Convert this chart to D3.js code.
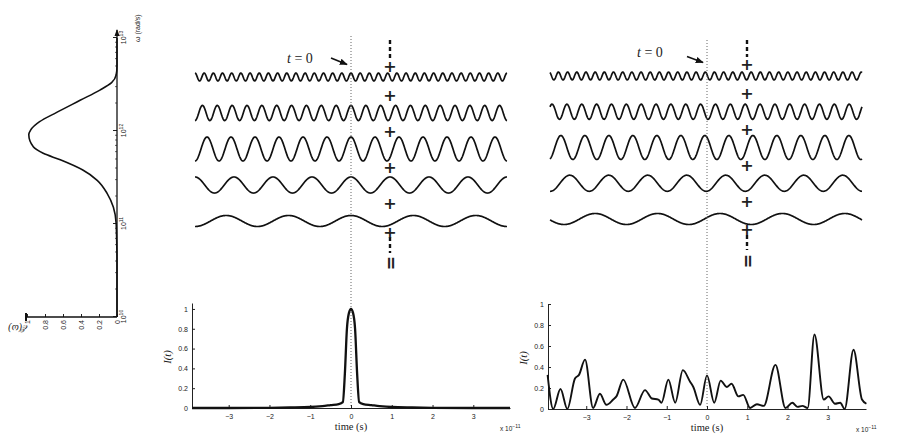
<!DOCTYPE html>
<html>
<head>
<meta charset="utf-8">
<script src="https://cdn.jsdelivr.net/npm/d3@7"></script>
<style>
body { margin: 0; background: #fff; }
svg text { font-family: "Liberation Sans", Arial, sans-serif; fill: #222; }
.serif { font-family: "Liberation Serif", "DejaVu Serif", serif; }
.axis .domain, .axis line { stroke: #222; }
</style>
</head>
<body>
<svg id="fig" width="900" height="443"></svg>
<script>
// spectrum E(w) : log10 of w (rad/s) and amplitude
var specLogW = [10, 10.6, 10.8, 11.01, 11.18, 11.33, 11.47, 11.58, 11.69, 11.76, 11.83, 11.96, 12.01, 12.1, 12.2, 12.33, 12.44, 12.52, 12.6, 12.7, 13];
var specVal  = [0, 0, 0.003, 0.01, 0.04, 0.11, 0.22, 0.38, 0.63, 0.82, 0.93, 0.98, 0.96, 0.86, 0.67, 0.41, 0.19, 0.06, 0.01, 0, 0];
var specTicks = [1e10, 1e11, 1e12, 1e13];
var specValTicks = [0, 0.2, 0.4, 0.6, 0.8, 1];

// the five cosine components: cycles across the strip, relative amplitude, phases
var waveCycles = [34, 21, 13, 8, 5];
var waveAmp = [0.33, 0.63, 1, 0.67, 0.46];
var phaseLocked = [0, 0, 0, 0, 0];
var phaseRandom = [0.5, 2.28, 0.3, 3.1, -1.41];

// intensity I(t), time in units of 1e-11 s
var lockT = [-3.9, -3, -2, -1.5, -1, -0.7, -0.5, -0.3, -0.2, -0.15, -0.1, -0.05, 0, 0.05, 0.1, 0.15, 0.2, 0.3, 0.5, 0.7, 1, 1.5, 2, 3, 3.9];
var lockI = [0, 0, 0.002, 0.005, 0.01, 0.02, 0.03, 0.04, 0.06, 0.35, 0.8, 0.96, 1, 0.96, 0.8, 0.35, 0.06, 0.04, 0.03, 0.02, 0.01, 0.005, 0.002, 0, 0];
var randT = [-3.96, -3.82, -3.64, -3.47, -3.28, -3.18, -3.03, -2.83, -2.66, -2.5, -2.33, -2.25, -2.08, -1.79, -1.54, -1.37, -1.21, -1.13, -0.96, -0.79, -0.6, -0.42, -0.34, -0.17, 0, 0.18, 0.34, 0.49, 0.61, 0.78, 0.9, 1.07, 1.24, 1.41, 1.7, 1.95, 2.12, 2.25, 2.37, 2.5, 2.67, 2.9, 3.02, 3.18, 3.31, 3.42, 3.64, 3.85, 3.96];
var randI = [0.325, 0, 0.19, 0, 0.29, 0.325, 0.47, 0.01, 0.145, 0.04, 0.09, 0.12, 0.28, 0.01, 0.18, 0.1, 0.09, 0.06, 0.28, 0.06, 0.37, 0.26, 0.21, 0.04, 0.32, 0.06, 0.27, 0.21, 0.24, 0.12, 0.135, 0.01, 0.045, 0.03, 0.42, 0.01, 0.06, 0.02, 0.03, 0.01, 0.71, 0.09, 0.12, 0.05, 0.06, 0, 0.565, 0.09, 0.05];
var timeTicks = [-3, -2, -1, 0, 1, 2, 3];
var intTicks = [0, 0.2, 0.4, 0.6, 0.8, 1];

var svg = d3.select("#fig");
var minus = function(d) { return d < 0 ? "\u2212" + (-d) : "" + d; };

svg.append("defs").append("marker")
    .attr("id", "head").attr("viewBox", "0 0 10 10")
    .attr("refX", 9).attr("refY", 5)
    .attr("markerWidth", 5).attr("markerHeight", 5)
    .attr("orient", "auto")
  .append("path").attr("d", "M0,1 L10,5 L0,9 z").attr("fill", "#111");

// ---------- spectrum, drawn in a frame turned by -90 degrees ----------
var spec = svg.append("g").attr("transform", "translate(117,317) rotate(-90)");
var w = d3.scaleLog().domain([1e10, 1e13]).range([0, 279]);
var e = d3.scaleLinear().domain([0, 1]).range([0, -90]);

var wAxis = spec.append("g").attr("class", "axis")
    .call(d3.axisBottom(w).tickValues(specTicks).tickSizeInner(-4).tickSizeOuter(0).tickPadding(4));
wAxis.select(".domain").remove();
wAxis.selectAll("text").attr("font-size", 7).each(function(d) {
  var t = d3.select(this).text("");
  t.append("tspan").text("10");
  t.append("tspan").attr("dy", -3).attr("font-size", 5).text(Math.round(Math.log10(d)));
});
// minor log ticks
var minor = [];
[1e10, 1e11, 1e12].forEach(function(p) { d3.range(2, 10).forEach(function(k) { minor.push(p * k); }); });
spec.selectAll(".minor").data(minor).enter().append("line")
    .attr("x1", function(d) { return w(d); }).attr("x2", function(d) { return w(d); })
    .attr("y1", 0).attr("y2", -2).attr("stroke", "#222").attr("stroke-width", 0.7);

var eAxis = spec.append("g").attr("class", "axis")
    .call(d3.axisLeft(e).tickValues(specValTicks).tickSizeInner(-3).tickSizeOuter(0).tickPadding(3).tickFormat(function(d) { return d; }));
eAxis.select(".domain").remove();
eAxis.selectAll("text").attr("font-size", 7);

spec.append("line").attr("x1", 0).attr("x2", 287).attr("y1", 0).attr("y2", 0).attr("stroke", "#111").attr("stroke-width", 1.3);
spec.append("line").attr("x1", 0).attr("x2", 0).attr("y1", 0).attr("y2", -92).attr("stroke", "#111").attr("stroke-width", 1.3);
spec.append("path").attr("d", "M281,-2.5 L288,0 L281,2.5 z").attr("fill", "#111");
spec.append("line").attr("x1", -4).attr("x2", 4).attr("y1", -91).attr("y2", -91).attr("stroke", "#111").attr("stroke-width", 2);

spec.append("path")
    .datum(d3.zip(specLogW, specVal))
    .attr("fill", "none").attr("stroke", "#111").attr("stroke-width", 1.6)
    .attr("d", d3.line()
      .x(function(d) { return w(Math.pow(10, d[0])); })
      .y(function(d) { return e(d[1]); })
      .curve(d3.curveMonotoneX));

spec.append("text").attr("x", 275).attr("y", 23).attr("font-size", 7)
    .text("\u03c9 (rad/s)");
svg.append("text").attr("class", "serif").attr("x", 28).attr("y", 325)
    .attr("transform", "rotate(180,28,325)")
    .attr("font-size", 10).attr("font-style", "italic").text("\u2130(\u03c9)");

// ---------- wave strips ----------
var ampPx = d3.scaleLinear().domain([0, 1]).range([0, 12]);
var samples = d3.range(0, 801).map(function(i) { return -0.5 + i / 800; });

function strip(o) {
  var x = d3.scaleLinear().domain([-0.5, 0.5]).range([o.left, o.right]);
  var row = d3.scalePoint().domain(d3.range(waveCycles.length)).range([o.top, o.bottom]);
  var g = svg.append("g");

  g.selectAll("path.wave").data(waveCycles).enter().append("path")
      .attr("class", "wave")
      .attr("fill", "none").attr("stroke", "#111").attr("stroke-width", 1.7)
      .attr("d", function(f, i) {
        return d3.line()
          .x(function(u) { return x(u); })
          .y(function(u) { return row(i) - ampPx(waveAmp[i]) * Math.cos(2 * Math.PI * f * u + o.phase[i]); })(samples);
      });

  // column of plus signs joining the components
  g.append("line").attr("x1", o.plusX).attr("x2", o.plusX).attr("y1", o.dashTop[0]).attr("y2", o.dashTop[1])
      .attr("stroke", "#111").attr("stroke-width", 2.4).attr("stroke-dasharray", "4,3");
  g.append("line").attr("x1", o.plusX).attr("x2", o.plusX).attr("y1", o.dashBot[0]).attr("y2", o.dashBot[1])
      .attr("stroke", "#111").attr("stroke-width", 2.4).attr("stroke-dasharray", "4,3");
  g.selectAll("text.plus").data(o.plusY).enter().append("text")
      .attr("class", "plus")
      .attr("x", o.plusX).attr("y", function(d) { return d + 5.5; })
      .attr("text-anchor", "middle").attr("font-size", 16).attr("font-weight", "bold")
      .style("font-family", "DejaVu Sans").text("+");
  g.append("text").attr("x", o.plusX).attr("y", o.eqY + 5)
      .attr("transform", "rotate(90," + o.plusX + "," + o.eqY + ")")
      .attr("text-anchor", "middle").attr("font-size", 17).attr("font-weight", "bold")
      .style("font-family", "DejaVu Sans").text("=");

  var lab = g.append("text").attr("class", "serif").attr("x", o.label[0]).attr("y", o.label[1]).attr("font-size", 14);
  lab.append("tspan").attr("font-style", "italic").text("t");
  lab.append("tspan").text(" = 0");
  g.append("line").attr("x1", o.arrow[0]).attr("y1", o.arrow[1]).attr("x2", o.arrow[2]).attr("y2", o.arrow[3])
      .attr("stroke", "#111").attr("stroke-width", 1.6).attr("marker-end", "url(#head)");
}

strip({ left: 195, right: 507, top: 77, bottom: 221, phase: phaseLocked,
        plusX: 390, plusY: [66, 95, 131, 167, 203, 232], dashTop: [40, 59], dashBot: [237, 253], eqY: 263,
        label: [287, 63], arrow: [331, 58, 347, 64.5] });
strip({ left: 550, right: 862, top: 76, bottom: 219, phase: phaseRandom,
        plusX: 747, plusY: [64, 93, 129, 165, 201, 229], dashTop: [40, 57], dashBot: [235, 250], eqY: 261,
        label: [637, 57], arrow: [687, 56.5], arrow: [687, 56.5, 703, 62.5] });

// ---------- intensity plots ----------
function pulsePlot(o) {
  var x = d3.scaleLinear().domain(o.tDom).range([o.left, o.right]);
  var y = d3.scaleLinear().domain(o.yDom).range([o.base, o.top]);
  var g = svg.append("g");

  g.append("line").attr("x1", x(0)).attr("x2", x(0)).attr("y1", o.dotTop).attr("y2", o.base)
      .attr("stroke", "#666").attr("stroke-width", 1).attr("stroke-dasharray", "1,2");

  var xa = g.append("g").attr("class", "axis").attr("transform", "translate(0," + o.base + ")")
      .call(d3.axisBottom(x).tickValues(timeTicks).tickSizeInner(-3).tickSizeOuter(0).tickPadding(6).tickFormat(minus));
  xa.selectAll("text").attr("font-size", 7);
  var ya = g.append("g").attr("class", "axis").attr("transform", "translate(" + o.left + ",0)")
      .call(d3.axisLeft(y).tickValues(intTicks).tickSizeInner(-3).tickSizeOuter(0).tickPadding(4).tickFormat(function(d) { return d; }));
  ya.selectAll("text").attr("font-size", 7);

  g.append("path")
      .datum(d3.zip(o.t, o.v))
      .attr("fill", "none").attr("stroke", "#111").attr("stroke-width", o.sw)
      .attr("stroke-linejoin", "round")
      .attr("d", d3.line()
        .x(function(d) { return x(d[0]); })
        .y(function(d) { return y(d[1]); })
        .curve(d3.curveMonotoneX));

  g.append("text").attr("class", "serif").attr("x", x(0)).attr("y", o.base + 22)
      .attr("text-anchor", "middle").attr("font-size", 10.5).text("time (s)");
  var sc = g.append("text").attr("x", o.right - 10).attr("y", o.base + 23).attr("font-size", 6.5);
  sc.append("tspan").text("x 10");
  sc.append("tspan").attr("dy", -3).attr("font-size", 5).text("\u221211");
  var yl = g.append("text").attr("class", "serif")
      .attr("transform", "translate(" + (o.left - 21) + "," + (o.base - 51) + ") rotate(-90)")
      .attr("text-anchor", "middle").attr("font-size", 10.5).attr("font-style", "italic");
  yl.text("I(t)");
}

pulsePlot({ left: 192, right: 510, base: 408, top: 303, tDom: [-3.9, 3.9], yDom: [0, 1.06],
            t: lockT, v: lockI, sw: 2.3, dotTop: 36 });
pulsePlot({ left: 548, right: 866, base: 409, top: 304, tDom: [-3.95, 3.95], yDom: [0, 1],
            t: randT, v: randI, sw: 1.9, dotTop: 40 });
</script>
</body>
</html>
